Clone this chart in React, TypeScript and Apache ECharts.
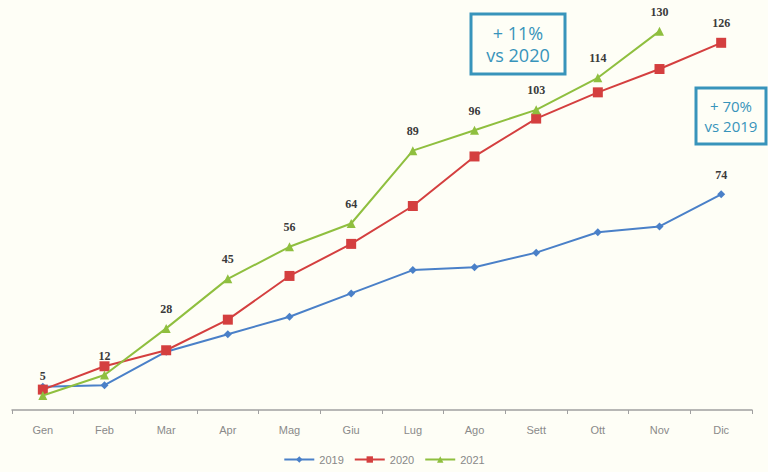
import React, { useEffect, useRef } from "react";
import * as echarts from "echarts";

// Months (Italian abbreviations)
const months = ["Gen", "Feb", "Mar", "Apr", "Mag", "Giu", "Lug", "Ago", "Sett", "Ott", "Nov", "Dic"];

// Cumulative values per year
const values2019 = [8, 8.5, 20, 26, 32, 40, 48, 49, 54, 61, 63, 74];
const values2020 = [7, 15, 20.5, 31, 46, 57, 70, 87, 100, 109, 117, 126];
const values2021 = [5, 12, 28, 45, 56, 64, 89, 96, 103, 114, 130];

const seriesNames = ["2019", "2020", "2021"];

// Callout boxes
const calloutGrowth2020 = ["+ 11%", "vs 2020"];
const calloutGrowth2019 = ["+ 70%", "vs 2019"];

const BLUE = "#4a80c8";
const RED = "#d43f3f";
const GREEN = "#8fbf3f";
const TEAL = "#3894bb";

const valueLabel = {
  show: true,
  position: "top" as const,
  distance: 9,
  fontFamily: "Liberation Serif",
  fontWeight: "bold" as const,
  fontSize: 12,
  color: "#3a3a3a",
};

function lastOnlyLabel(arr: number[]) {
  return arr.map((v, i) =>
    i === arr.length - 1 ? { value: v, label: valueLabel } : v
  );
}

function callout(x: number, y: number, w: number, h: number, lines: string[], size: number, gap: number) {
  return {
    type: "group",
    x,
    y,
    children: [
      {
        type: "rect",
        shape: { x: 0, y: 0, width: w, height: h },
        style: { fill: "rgba(0,0,0,0)", stroke: TEAL, lineWidth: 3 },
      },
      ...lines.map((line, i) => ({
        type: "text",
        x: w / 2,
        y: h / 2 + (i - (lines.length - 1) / 2) * gap,
        style: {
          text: line,
          fill: TEAL,
          fontFamily: "Open Sans",
          fontSize: size,
          lineHeight: size,
          align: "center",
          verticalAlign: "middle",
        },
      })),
    ],
  };
}

export default function App() {
  const ref = useRef<HTMLDivElement>(null);

  useEffect(() => {
    if (!ref.current) return;
    const chart = echarts.init(ref.current, undefined, { renderer: "svg" });
    chart.setOption({
      animation: false,
      backgroundColor: "#fefef6",
      grid: { left: 12, right: 16, top: 2, bottom: 62 },
      legend: {
        bottom: 2,
        left: "center",
        itemWidth: 30,
        itemHeight: 8,
        itemGap: 10,
        textStyle: { color: "#888", fontSize: 11, fontFamily: "Liberation Sans" },
        data: seriesNames,
      },
      xAxis: {
        type: "category",
        data: months,
        boundaryGap: true,
        axisLine: { lineStyle: { color: "#a0a0a0", width: 1.5 } },
        axisTick: { show: true, length: 4, lineStyle: { color: "#a0a0a0" } },
        axisLabel: { color: "#8a8a8a", fontSize: 11, fontFamily: "Liberation Sans", margin: 14 },
      },
      yAxis: {
        type: "value",
        min: 0,
        max: 140,
        show: false,
        splitLine: { show: false },
      },
      series: [
        {
          name: seriesNames[0],
          type: "line",
          data: lastOnlyLabel(values2019),
          symbol: "diamond",
          symbolSize: 8,
          color: BLUE,
          lineStyle: { width: 2, color: BLUE },
          z: 2,
        },
        {
          name: seriesNames[1],
          type: "line",
          data: lastOnlyLabel(values2020),
          symbol: "rect",
          symbolSize: 10,
          color: RED,
          lineStyle: { width: 2, color: RED },
          z: 3,
        },
        {
          name: seriesNames[2],
          type: "line",
          data: values2021,
          symbol: "triangle",
          symbolSize: 9,
          color: GREEN,
          lineStyle: { width: 2, color: GREEN },
          label: valueLabel,
          z: 4,
        },
      ],
      graphic: [
        callout(471, 14, 94, 60, calloutGrowth2020, 18, 22),
        callout(696, 88, 70, 56, calloutGrowth2019, 15, 20),
      ],
    });
    return () => chart.dispose();
  }, []);

  return (
    <div
      ref={ref}
      style={{ position: "fixed", left: 0, top: 0, width: 768, height: 472 }}
    />
  );
}
